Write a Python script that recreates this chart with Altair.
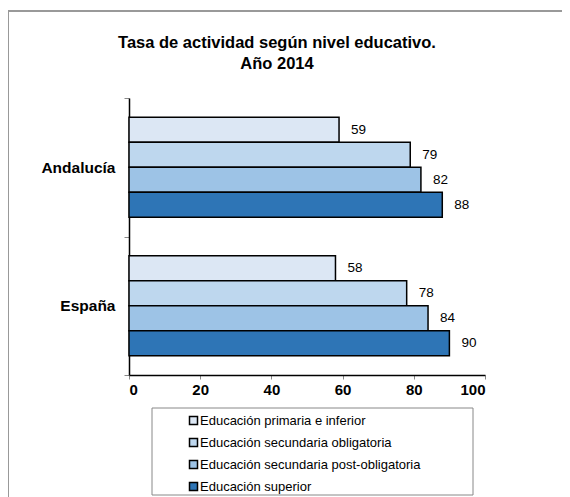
import altair as alt
import pandas as pd

regions = ["Andalucía", "España"]
levels = [
    "Educación primaria e inferior",
    "Educación secundaria obligatoria",
    "Educación secundaria post-obligatoria",
    "Educación superior",
]
andalucia = [59, 79, 82, 88]
espana = [58, 78, 84, 90]
colors = ["#dce7f4", "#bed7ee", "#9dc3e6", "#2e75b6"]
x_ticks = [0, 20, 40, 60, 80, 100]
title_lines = ["Tasa de actividad según nivel educativo.", "Año 2014"]

rows = []
for r, vals in zip(regions, [andalucia, espana]):
    for lvl, v in zip(levels, vals):
        rows.append({"region": r, "nivel": lvl, "valor": v})
df = pd.DataFrame(rows)

FONT = "Liberation Sans"

y_enc = alt.Y(
    "region:N",
    sort=regions,
    scale=alt.Scale(paddingInner=0, paddingOuter=0),
    axis=alt.Axis(
        title=None,
        tickBand="extent",
        tickSize=5,
        tickColor="#888888",
        domainColor="black",
        domainWidth=1.5,
        labelFont=FONT,
        labelFontSize=15.5,
        labelFontWeight="bold",
        labelColor="black",
        labelPadding=9,
    ),
)
yoff_enc = alt.YOffset(
    "nivel:N", sort=levels, scale=alt.Scale(paddingInner=0, paddingOuter=0.77)
)
x_enc = alt.X(
    "valor:Q",
    scale=alt.Scale(domain=[0, 100], nice=False),
    axis=alt.Axis(
        title=None,
        values=x_ticks,
        grid=False,
        tickSize=4,
        tickColor="#888888",
        domainColor="black",
        domainWidth=1.5,
        labelFont=FONT,
        labelFontSize=15,
        labelFontWeight="bold",
        labelColor="black",
        labelPadding=3,
    ),
)
color_enc = alt.Color(
    "nivel:N",
    sort=levels,
    scale=alt.Scale(domain=levels, range=colors),
    legend=alt.Legend(
        title=None,
        orient="none",
        legendX=23,
        legendY=312,
        strokeColor="transparent",
        padding=4,
        symbolType="square",
        symbolSize=64,
        symbolStrokeColor="black",
        symbolStrokeWidth=1.5,
        symbolOpacity=1,
        symbolOffset=31,
        labelOffset=0,
        labelFont=FONT,
        labelFontSize=13,
        labelColor="black",
        labelLimit=500,
        rowPadding=7,
    ),
)

base = alt.Chart(df)

bars = base.mark_bar(stroke="black", strokeWidth=1.5, opacity=1).encode(
    x=x_enc, y=y_enc, yOffset=yoff_enc, color=color_enc
)

labels = base.mark_text(
    align="left", baseline="middle", dx=12, font=FONT, fontSize=13.5, color="black"
).encode(
    x=alt.X("valor:Q"),
    y=alt.Y("region:N", sort=regions),
    yOffset=alt.YOffset("nivel:N", sort=levels),
    text=alt.Text("valor:Q"),
)

one = pd.DataFrame({"k": [0]})
title_df = pd.DataFrame({"t": ["\n".join(title_lines)]})

title_text = alt.Chart(title_df).mark_text(
    align="center",
    baseline="top",
    font=FONT,
    fontSize=16.5,
    fontWeight="bold",
    color="black",
    lineBreak="\n",
    lineHeight=21,
).encode(x=alt.value(148), y=alt.value(-63), text="t:N")

frame_left = alt.Chart(one).mark_rule(color="#999999", strokeWidth=2).encode(
    x=alt.value(-121), y=alt.value(-87), y2=alt.value(400)
)
frame_top = alt.Chart(one).mark_rule(color="#999999", strokeWidth=2).encode(
    x=alt.value(-121), x2=alt.value(450), y=alt.value(-87)
)
legend_box = alt.Chart(one).mark_rect(
    fill="white", stroke="#888888", strokeWidth=1
).encode(
    x=alt.value(23), x2=alt.value(344), y=alt.value(310), y2=alt.value(397)
)

chart = (
    alt.layer(frame_left, frame_top, legend_box, title_text, bars, labels)
    .properties(
        width=356,
        height=277,
        background="white",
        autosize=alt.AutoSizeParams(type="none"),
        padding={"left": 121, "top": 90, "right": 77, "bottom": 122},
    )
    .configure_view(stroke=None, strokeWidth=0)
)

chart.save("out.html", embed_options={"renderer": "svg", "actions": False})
